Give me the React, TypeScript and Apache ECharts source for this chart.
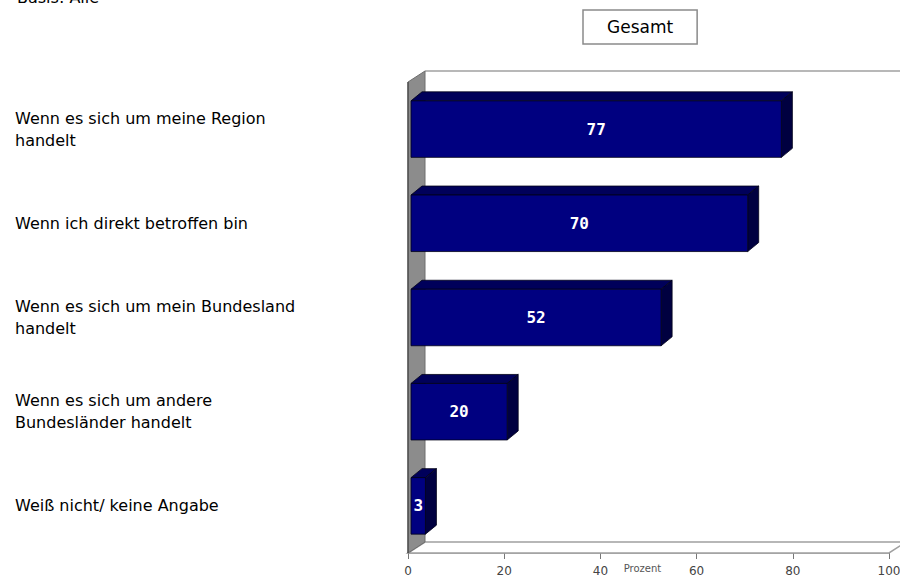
import React, { useEffect, useRef } from "react";
import * as echarts from "echarts";

// Survey answers (top to bottom) and their share in percent
const categories: string[] = [
  "Wenn es sich um meine Region\nhandelt",
  "Wenn ich direkt betroffen bin",
  "Wenn es sich um mein Bundesland\nhandelt",
  "Wenn es sich um andere\nBundesländer handelt",
  "Weiß nicht/ keine Angabe",
];
const values: number[] = [77, 70, 52, 20, 3];
const seriesName = "Gesamt";
const axisName = "Prozent";
const baseNote = "Basis: Alle";
const xMin = 0;
const xMax = 100;
const xStep = 20;

const LABEL_FONT = '"DejaVu Sans", sans-serif';

// depth of the chart box (left wall / floor) and of each bar
const WALL_DX = 17;
const WALL_DY = -11;
const BAR_DX = 11;
const BAR_DY = -9;
const BAR_SHIFT = 3;

export default function App() {
  const ref = useRef<HTMLDivElement>(null);

  useEffect(() => {
    if (!ref.current) return;
    const chart = echarts.init(ref.current, null, { renderer: "svg" });

    const frameItem = (params: any, api: any) => {
      const cs = params.coordSys;
      const x0 = cs.x;
      const x1 = cs.x + cs.width;
      const yTop = cs.y;
      const yBot = cs.y + cs.height;
      return {
        type: "group",
        children: [
          // back wall top edge
          {
            type: "line",
            shape: { x1: x0 + WALL_DX, y1: yTop + WALL_DY, x2: x1 + WALL_DX, y2: yTop + WALL_DY },
            style: { stroke: "#a0a0a0", lineWidth: 1.5 },
          },
          // floor
          {
            type: "polygon",
            shape: {
              points: [
                [x0, yBot],
                [x0 + WALL_DX, yBot + WALL_DY],
                [x1 + WALL_DX, yBot + WALL_DY],
                [x1, yBot],
              ],
            },
            style: { fill: "#ffffff", stroke: "#a0a0a0", lineWidth: 1.5 },
          },
          // left wall
          {
            type: "polygon",
            shape: {
              points: [
                [x0, yTop],
                [x0 + WALL_DX, yTop + WALL_DY],
                [x0 + WALL_DX, yBot + WALL_DY],
                [x0, yBot],
              ],
            },
            style: { fill: "#8c8c8c", stroke: "#6e6e6e", lineWidth: 1 },
          },
          {
            type: "line",
            shape: { x1: x0, y1: yTop, x2: x0, y2: yBot },
            style: { stroke: "#444444", lineWidth: 1.2 },
          },
        ],
      };
    };

    const barItem = (params: any, api: any) => {
      const v = api.value(0);
      const idx = api.value(1);
      const start = api.coord([0, idx]);
      const end = api.coord([v, idx]);
      const h = api.size([0, 1])[1] * 0.6;
      const xl = start[0] + BAR_SHIFT;
      const xr = end[0] + BAR_SHIFT;
      const yt = start[1] - h / 2;
      const yb = yt + h;
      const edge = { stroke: "#000018", lineWidth: 0.8 };
      return {
        type: "group",
        children: [
          {
            type: "polygon",
            shape: {
              points: [
                [xl, yt],
                [xl + BAR_DX, yt + BAR_DY],
                [xr + BAR_DX, yt + BAR_DY],
                [xr, yt],
              ],
            },
            style: { fill: "#00005a", ...edge },
          },
          {
            type: "polygon",
            shape: {
              points: [
                [xr, yt],
                [xr + BAR_DX, yt + BAR_DY],
                [xr + BAR_DX, yb + BAR_DY],
                [xr, yb],
              ],
            },
            style: { fill: "#000040", ...edge },
          },
          {
            type: "rect",
            shape: { x: xl, y: yt, width: xr - xl, height: h },
            style: { fill: "#000080", ...edge },
          },
          {
            type: "text",
            style: {
              text: String(v),
              x: (xl + xr) / 2,
              y: (yt + yb) / 2,
              align: "center",
              verticalAlign: "middle",
              fill: "#ffffff",
              font: 'bold 16px "DejaVu Sans Mono", monospace',
            },
          },
        ],
      };
    };

    chart.setOption({
      animation: false,
      backgroundColor: "#ffffff",
      graphic: [
        {
          type: "text",
          left: 17,
          top: -11,
          style: {
            text: baseNote,
            font: `16px ${LABEL_FONT}`,
            fill: "#000000",
          },
        },
      ],
      legend: {
        data: [seriesName],
        left: 583,
        top: 10,
        padding: [8, 24, 8, 19],
        itemWidth: 0,
        itemHeight: 0,
        borderColor: "#8a8a8a",
        borderWidth: 1.5,
        selectedMode: false,
        textStyle: {
          fontFamily: LABEL_FONT,
          fontSize: 17,
          color: "#000000",
          lineHeight: 18,
        },
      },
      grid: {
        left: 408,
        right: 11,
        top: 82,
        bottom: 27,
        containLabel: false,
        outerBoundsMode: "none",
      },
      xAxis: {
        type: "value",
        min: xMin,
        max: xMax,
        interval: xStep,
        name: axisName,
        nameLocation: "middle",
        nameGap: 10,
        nameMoveOverlap: false,
        nameTextStyle: {
          fontFamily: LABEL_FONT,
          fontSize: 10,
          color: "#555555",
          padding: [0, 12, 0, 0],
        },
        splitLine: { show: false },
        axisLine: { show: true, lineStyle: { color: "#999999", width: 1.5 } },
        axisTick: { show: true, length: 6, lineStyle: { color: "#777777" } },
        axisLabel: {
          fontFamily: LABEL_FONT,
          fontSize: 12,
          color: "#444444",
          margin: 12,
        },
      },
      yAxis: {
        type: "category",
        inverse: true,
        data: categories,
        axisLine: { show: false },
        axisTick: { show: false },
        splitLine: { show: false },
        axisLabel: {
          align: "left",
          margin: 393,
          fontFamily: LABEL_FONT,
          fontSize: 16,
          lineHeight: 22,
          color: "#000000",
        },
      },
      series: [
        {
          type: "custom",
          name: "frame",
          silent: true,
          z: 1,
          renderItem: frameItem,
          encode: { x: 0, y: 1 },
          data: [[0, 0]],
        },
        {
          type: "custom",
          name: seriesName,
          z: 3,
          renderItem: barItem,
          encode: { x: 0, y: 1 },
          data: values.map((v, i) => [v, i]),
        },
      ],
    });

    return () => chart.dispose();
  }, []);

  return (
    <div
      ref={ref}
      style={{ position: "fixed", left: 0, top: 0, width: 900, height: 580 }}
    />
  );
}
